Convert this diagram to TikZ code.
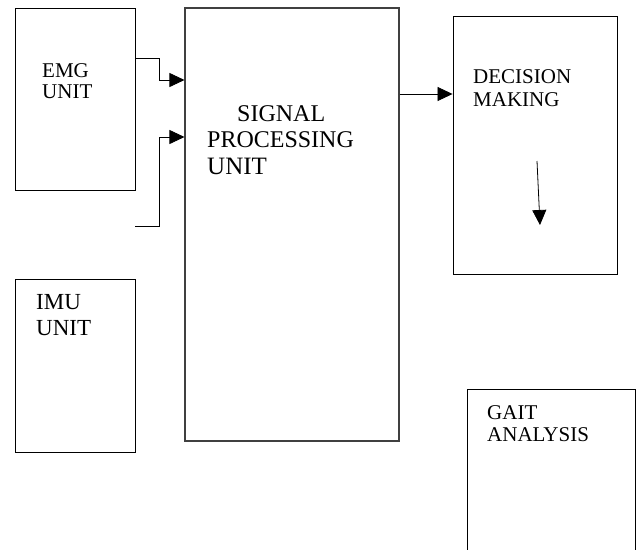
\documentclass[tikz,border=0pt]{standalone}
\usepackage{fontspec}
\setmainfont{Liberation Serif}
\usetikzlibrary{arrows.meta}

\begin{document}
\begin{tikzpicture}[x=1pt, y=-1pt,
    unitbox/.style={draw, line width=0.9pt, inner sep=0pt},
    boxtext/.style={anchor=north west, inner sep=0pt, align=left, font=\fontsize{21}{22}\selectfont},
    arr/.style={-{Triangle[length=15pt, width=14pt]}, line width=0.8pt}]
    \useasboundingbox (0,0) rectangle (637,549);

    % Blocks
    \node[unitbox, minimum width=120pt, minimum height=182pt] (emg) at (75,99) {};
    \node[unitbox, minimum width=120pt, minimum height=173pt] (imu) at (75,365.5) {};
    \node[unitbox, draw=black!75, line width=1.1pt, minimum width=214pt, minimum height=433pt] (sig) at (292,224.5) {};
    \node[unitbox, minimum width=164pt, minimum height=258pt] (dec) at (535,145) {};
    \node[unitbox, minimum width=168pt, minimum height=180pt] (gait) at (551,479) {};

    % Block labels
    \node[boxtext, font=\fontsize{21}{21}\selectfont] (emgtxt) at (42,63) {EMG\\UNIT};
    \node[boxtext, font=\fontsize{23}{26}\selectfont] (imutxt) at (36,294) {IMU\\UNIT};
    \node[boxtext, font=\fontsize{24}{26.5}\selectfont] (sigtxt) at (207,105) {\hspace{30pt}SIGNAL\\PROCESSING\\{\fontsize{25}{26.5}\selectfont UNIT}};
    \node[boxtext, font=\fontsize{21}{23}\selectfont] (dectxt) at (473,69) {DECISION\\MAKING};
    \node[boxtext] (gaittxt) at (487,405) {GAIT\\ANALYSIS};

    % Inputs to the processing block
    \coordinate (imuin) at (135,226);
    \draw[arr] (emg.east |- 0,58) -| (159,80) -- (sig.west |- 0,80);
    \draw[arr] (imuin) -| (159,137) -- (sig.west |- 0,137);

    % Output and decision
    \draw[arr] (sig.east |- 0,94) -- (dec.west |- 0,94);
    \coordinate (dtop) at (537,161);
    \coordinate (dbot) at (540,225);
    \draw[arr] (dtop) -- (dbot);
\end{tikzpicture}
\end{document}
